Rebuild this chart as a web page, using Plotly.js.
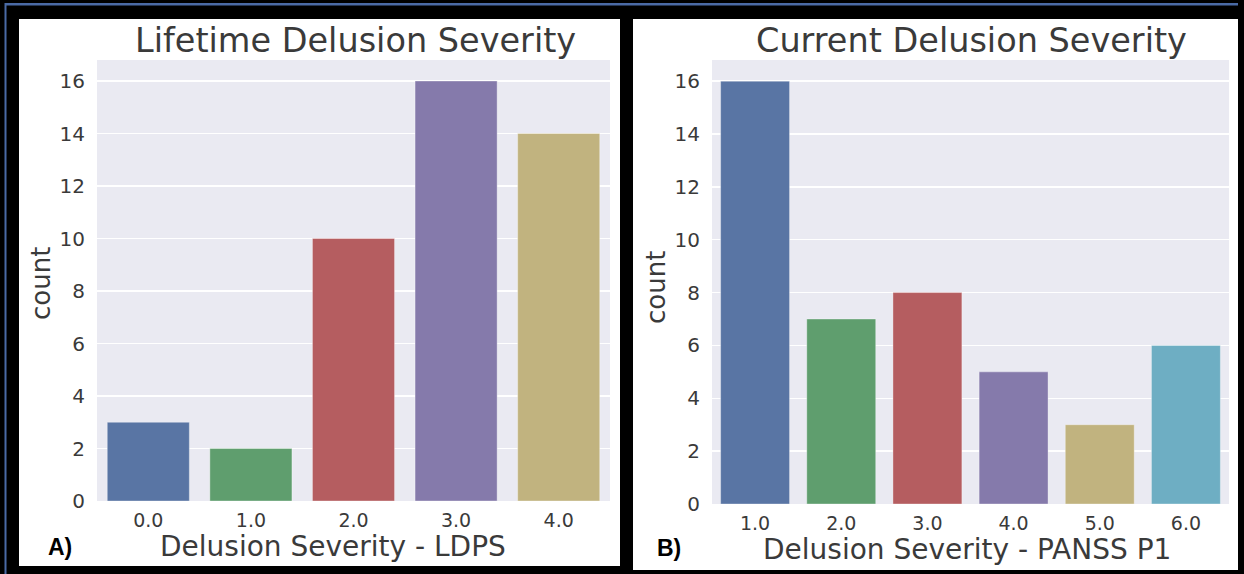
<!DOCTYPE html>
<html>
<head>
<meta charset="utf-8">
<script src="https://cdn.plot.ly/plotly-3.0.1.min.js"></script>
<style>html,body{margin:0;padding:0;background:#000;}#chart{width:1244px;height:574px;}</style>
</head>
<body>
<div id="chart"></div>
<script>
// Data
const lifetimeCategories = ["0.0", "1.0", "2.0", "3.0", "4.0"];
const lifetimeCounts = [3, 2, 10, 16, 14];
const currentCategories = ["1.0", "2.0", "3.0", "4.0", "5.0", "6.0"];
const currentCounts = [16, 7, 8, 5, 3, 6];
const yTickValues = [0, 2, 4, 6, 8, 10, 12, 14, 16];
const barColors = ["#5975a4", "#5f9e6e", "#b55d60", "#857aab", "#c1b37f", "#6eaec3"];

const W = 1244, H = 574;
const px = x => x / W;
const py = y => 1 - y / H;

const textColor = "#3a3a3a";
const font = "DejaVu Sans, sans-serif";

const traces = [
  {
    type: "bar", x: lifetimeCategories, y: lifetimeCounts,
    marker: {color: barColors.slice(0, lifetimeCategories.length), line: {color: "rgba(255,255,255,0.35)", width: 1}},
    xaxis: "x", yaxis: "y", hoverinfo: "x+y"
  },
  {
    type: "bar", x: currentCategories, y: currentCounts,
    marker: {color: barColors.slice(0, currentCategories.length), line: {color: "rgba(255,255,255,0.35)", width: 1}},
    xaxis: "x2", yaxis: "y2", hoverinfo: "x+y"
  }
];

const yaxisBase = {
  range: [0, 16.8], tickvals: yTickValues, showgrid: true, gridcolor: "#ffffff", gridwidth: 1.3,
  zeroline: false, showline: false, ticks: "outside", ticklen: 7, tickcolor: "rgba(0,0,0,0)",
  tickfont: {family: font, size: 20, color: textColor}, fixedrange: true
};
const xaxisBase = {
  type: "category", showgrid: false, zeroline: false, showline: false,
  ticks: "outside", ticklen: 2, tickcolor: "rgba(0,0,0,0)",
  tickfont: {family: font, size: 19, color: textColor}, fixedrange: true
};

function blackRect(x0, y0, x1, y1) {
  return {type: "rect", xref: "paper", yref: "paper", x0: px(x0), x1: px(x1), y0: py(y1), y1: py(y0),
          fillcolor: "#000000", line: {width: 0}, layer: "below"};
}

const layout = {
  width: W, height: H,
  margin: {l: 0, r: 0, t: 0, b: 0},
  paper_bgcolor: "#ffffff",
  plot_bgcolor: "#eaeaf2",
  showlegend: false,
  bargap: 0.2,
  xaxis: Object.assign({}, xaxisBase, {domain: [px(97), px(610)], anchor: "y"}),
  yaxis: Object.assign({}, yaxisBase, {domain: [py(501), py(60)], anchor: "x"}),
  xaxis2: Object.assign({}, xaxisBase, {domain: [px(712), px(1229)], anchor: "y2"}),
  yaxis2: Object.assign({}, yaxisBase, {domain: [py(504), py(60)], anchor: "x2"}),
  shapes: [
    blackRect(0, 0, 1244, 19),
    blackRect(0, 0, 19, 574),
    blackRect(620, 0, 633, 574),
    blackRect(1238, 0, 1244, 574),
    blackRect(0, 566, 633, 574),
    blackRect(633, 570, 1244, 574),
    {type: "rect", xref: "paper", yref: "paper", x0: px(5), x1: px(1238), y0: py(5.5), y1: py(3), fillcolor: "#4a6aa5", line: {width: 0}, layer: "above"},
    {type: "rect", xref: "paper", yref: "paper", x0: px(4.5), x1: px(6.5), y0: 0, y1: py(3), fillcolor: "#4a6aa5", line: {width: 0}, layer: "above"}
  ],
  annotations: [
    {text: "Lifetime Delusion Severity", xref: "paper", yref: "paper", x: px(355), y: py(41), xanchor: "center", yanchor: "middle", showarrow: false, font: {family: font, size: 33.5, color: textColor}},
    {text: "Current Delusion Severity", xref: "paper", yref: "paper", x: px(971), y: py(41), xanchor: "center", yanchor: "middle", showarrow: false, font: {family: font, size: 33.5, color: textColor}},
    {text: "Delusion Severity - LDPS", xref: "paper", yref: "paper", x: px(333), y: py(546), xanchor: "center", yanchor: "middle", showarrow: false, font: {family: font, size: 28, color: textColor}},
    {text: "Delusion Severity - PANSS P1", xref: "paper", yref: "paper", x: px(967), y: py(549), xanchor: "center", yanchor: "middle", showarrow: false, font: {family: font, size: 28, color: textColor}},
    {text: "count", xref: "paper", yref: "paper", x: px(41), y: py(283), xanchor: "center", yanchor: "middle", textangle: -90, showarrow: false, font: {family: font, size: 26, color: textColor}},
    {text: "count", xref: "paper", yref: "paper", x: px(656), y: py(287), xanchor: "center", yanchor: "middle", textangle: -90, showarrow: false, font: {family: font, size: 26, color: textColor}},
    {text: "<b>A)</b>", xref: "paper", yref: "paper", x: px(46), y: py(547), xanchor: "left", yanchor: "middle", showarrow: false, font: {family: "Liberation Sans, Arial, sans-serif", size: 23, color: "#000000"}},
    {text: "<b>B)</b>", xref: "paper", yref: "paper", x: px(655), y: py(548), xanchor: "left", yanchor: "middle", showarrow: false, font: {family: "Liberation Sans, Arial, sans-serif", size: 23, color: "#000000"}}
  ]
};

Plotly.newPlot("chart", traces, layout, {displayModeBar: false, staticPlot: true});
</script>
</body>
</html>
